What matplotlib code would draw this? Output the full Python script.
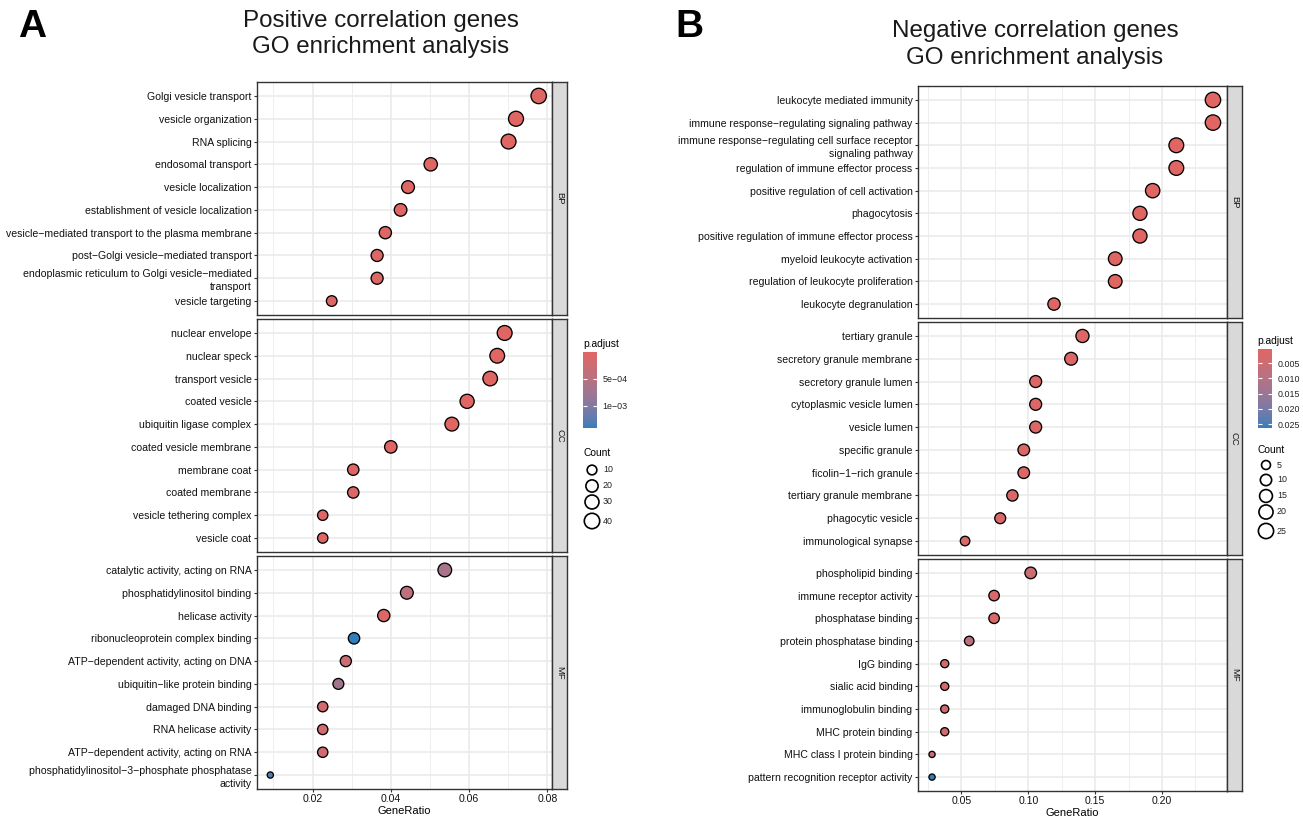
import numpy as np
import matplotlib
matplotlib.use("Agg")
import matplotlib.pyplot as plt
from matplotlib.colors import ListedColormap, Normalize
from matplotlib.cm import ScalarMappable

plt.rcParams["font.family"] = ["Liberation Sans", "DejaVu Sans"]

W, H, DPI = 1303, 818, 100

# ---------------- panel A : positive correlation genes ----------------
pos_bp_terms = ["Golgi vesicle transport", "vesicle organization", "RNA splicing",
                "endosomal transport", "vesicle localization",
                "establishment of vesicle localization",
                "vesicle−mediated transport to the plasma membrane",
                "post−Golgi vesicle−mediated transport",
                "endoplasmic reticulum to Golgi vesicle−mediated\ntransport",
                "vesicle targeting"]
pos_bp_ratio = [0.0778, 0.0720, 0.0701, 0.0502, 0.0444, 0.0425, 0.0386, 0.0365, 0.0365, 0.0249]
pos_bp_count = [40, 37, 36, 26, 23, 22, 20, 19, 19, 13]
pos_bp_padj = [1e-6, 2e-6, 1e-6, 1e-5, 2e-5, 2e-5, 3e-5, 3e-5, 4e-5, 5e-5]

pos_cc_terms = ["nuclear envelope", "nuclear speck", "transport vesicle", "coated vesicle",
                "ubiquitin ligase complex", "coated vesicle membrane", "membrane coat",
                "coated membrane", "vesicle tethering complex", "vesicle coat"]
pos_cc_ratio = [0.0691, 0.0672, 0.0654, 0.0595, 0.0556, 0.0400, 0.0304, 0.0304, 0.0226, 0.0226]
pos_cc_count = [36, 35, 34, 31, 29, 21, 16, 16, 12, 12]
pos_cc_padj = [1e-6, 2e-6, 3e-6, 5e-6, 1e-5, 2e-5, 3e-5, 3e-5, 4e-5, 4e-5]

pos_mf_terms = ["catalytic activity, acting on RNA", "phosphatidylinositol binding",
                "helicase activity", "ribonucleoprotein complex binding",
                "ATP−dependent activity, acting on DNA", "ubiquitin−like protein binding",
                "damaged DNA binding", "RNA helicase activity",
                "ATP−dependent activity, acting on RNA",
                "phosphatidylinositol−3−phosphate phosphatase\nactivity"]
pos_mf_ratio = [0.0538, 0.0441, 0.0382, 0.0306, 0.0285, 0.0266, 0.0226, 0.0226, 0.0226, 0.0092]
pos_mf_count = [28, 23, 20, 16, 15, 14, 12, 12, 12, 5]
pos_mf_padj = [6.5e-4, 4.2e-4, 6e-5, 1.42e-3, 2.6e-4, 7.2e-4, 1.5e-4, 1.8e-4, 2.0e-4, 1.3e-3]

# ---------------- panel B : negative correlation genes ----------------
neg_bp_terms = ["leukocyte mediated immunity", "immune response−regulating signaling pathway",
                "immune response−regulating cell surface receptor\nsignaling pathway",
                "regulation of immune effector process", "positive regulation of cell activation",
                "phagocytosis", "positive regulation of immune effector process",
                "myeloid leukocyte activation", "regulation of leukocyte proliferation",
                "leukocyte degranulation"]
neg_bp_ratio = [0.2381, 0.2381, 0.2107, 0.2107, 0.1930, 0.1835, 0.1835, 0.1650, 0.1650, 0.1192]
neg_bp_count = [26, 26, 23, 23, 21, 20, 20, 18, 18, 13]
neg_bp_padj = [3e-4, 3e-4, 4e-4, 4e-4, 5e-4, 5e-4, 6e-4, 7e-4, 8e-4, 1.0e-3]

neg_cc_terms = ["tertiary granule", "secretory granule membrane", "secretory granule lumen",
                "cytoplasmic vesicle lumen", "vesicle lumen", "specific granule",
                "ficolin−1−rich granule", "tertiary granule membrane", "phagocytic vesicle",
                "immunological synapse"]
neg_cc_ratio = [0.1405, 0.1320, 0.1055, 0.1055, 0.1055, 0.0966, 0.0966, 0.0881, 0.0790, 0.0527]
neg_cc_count = [16, 15, 12, 12, 12, 11, 11, 10, 9, 6]
neg_cc_padj = [1.0e-3, 1.2e-3, 1.4e-3, 1.5e-3, 1.5e-3, 1.6e-3, 1.7e-3, 1.9e-3, 2.0e-3, 2.3e-3]

neg_mf_terms = ["phospholipid binding", "immune receptor activity", "phosphatase binding",
                "protein phosphatase binding", "IgG binding", "sialic acid binding",
                "immunoglobulin binding", "MHC protein binding", "MHC class I protein binding",
                "pattern recognition receptor activity"]
neg_mf_ratio = [0.1018, 0.0744, 0.0744, 0.0558, 0.0375, 0.0375, 0.0375, 0.0375, 0.0280, 0.0280]
neg_mf_count = [11, 8, 8, 6, 4, 4, 4, 4, 3, 3]
neg_mf_padj = [5.5e-3, 2.5e-3, 2.5e-3, 8.5e-3, 2.8e-3, 2.8e-3, 3.0e-3, 3.2e-3, 5.0e-3, 0.0263]

pos_legend_counts = [10, 20, 30, 40]
neg_legend_counts = [5, 10, 15, 20, 25]
pos_cbar_ticks = [5e-4, 1e-3]
pos_cbar_labels = ["5e−04", "1e−03"]
neg_cbar_ticks = [0.005, 0.010, 0.015, 0.020, 0.025]
neg_cbar_labels = ["0.005", "0.010", "0.015", "0.020", "0.025"]


# ggplot style gradient (interpolated in Lab space)
_M = np.array([[0.4124564, 0.3575761, 0.1804375],
               [0.2126729, 0.7151522, 0.0721750],
               [0.0193339, 0.1191920, 0.9503041]])
_WHITE = np.array([0.95047, 1.0, 1.08883])


def to_lab(hexcol):
    rgb = np.array([int(hexcol[i:i + 2], 16) / 255 for i in (1, 3, 5)])
    lin = np.where(rgb <= 0.04045, rgb / 12.92, ((rgb + 0.055) / 1.055) ** 2.4)
    t = (_M @ lin) / _WHITE
    f = np.where(t > (6 / 29) ** 3, np.cbrt(t), t / (3 * (6 / 29) ** 2) + 4 / 29)
    return np.array([116 * f[1] - 16, 500 * (f[0] - f[1]), 200 * (f[1] - f[2])])


def from_lab(lab):
    fy = (lab[0] + 16) / 116
    f = np.array([fy + lab[1] / 500, fy, fy - lab[2] / 200])
    t = np.where(f > 6 / 29, f ** 3, 3 * (6 / 29) ** 2 * (f - 4 / 29))
    lin = np.linalg.inv(_M) @ (t * _WHITE)
    lin = np.clip(lin, 0, None)
    rgb = np.where(lin <= 0.0031308, 12.92 * lin, 1.055 * lin ** (1 / 2.4) - 0.055)
    return np.clip(rgb, 0, 1)


lab_lo, lab_hi = to_lab("#e06663"), to_lab("#327eba")
cmap = ListedColormap([from_lab(lab_lo + (lab_hi - lab_lo) * u) for u in np.linspace(0, 1, 256)])


def box(x0, y0, x1, y1):
    return [x0 / W, 1 - y1 / H, (x1 - x0) / W, (y1 - y0) / H]


def dot_size(c, cmin, cmax):
    d = 6.2 + 9.2 * np.sqrt((np.asarray(c, float) - cmin) / (cmax - cmin))
    return (d * 72 / DPI) ** 2


fig = plt.figure(figsize=(W / DPI, H / DPI), dpi=DPI)


def facet(px, py, strip_x1, terms, ratio, count, padj, norm, clim, xlim,
          xticks, xlabels, xminor, label, bottom):
    ax = fig.add_axes(box(px[0], py[0], px[1], py[1]))
    n = len(terms)
    y = np.arange(n)[::-1]
    ax.set_xlim(xlim)
    ax.set_ylim(-0.6, n - 1 + 0.6)
    ax.set_axisbelow(True)
    ax.set_xticks(xticks)
    ax.set_xticks(xminor, minor=True)
    ax.grid(which="major", color="#ebebeb", lw=1.2)
    ax.grid(which="minor", axis="x", color="#ebebeb", lw=0.6)
    ax.scatter(ratio, y, s=dot_size(count, *clim), c=padj, cmap=cmap, norm=norm,
               edgecolors="black", linewidths=0.95, zorder=3)
    ax.set_yticks(y)
    ax.set_yticklabels(terms, fontsize=7.6, color="#111111")
    for t in ax.get_yticklabels():
        t.set_linespacing(1.35)
    ax.tick_params(which="major", length=2.5, width=0.8, color="#333333", pad=1.5)
    ax.tick_params(which="minor", length=0)
    if bottom:
        ax.set_xticklabels(xlabels, fontsize=7.6, color="#111111")
        ax.set_xlabel("GeneRatio", fontsize=8, labelpad=1)
    else:
        ax.tick_params(axis="x", labelbottom=False, length=0)
    for sp in ax.spines.values():
        sp.set_color("#333333")
        sp.set_linewidth(1.0)
    sax = fig.add_axes(box(px[1], py[0], strip_x1, py[1]))
    sax.set_facecolor("#d9d9d9")
    sax.set_xticks([])
    sax.set_yticks([])
    for sp in sax.spines.values():
        sp.set_color("#333333")
        sp.set_linewidth(1.0)
    sax.text(0.5, 0.5, label, rotation=-90, ha="center", va="center",
             fontsize=6.8, color="#1a1a1a", transform=sax.transAxes)
    return ax


# panel A
pos_all_padj = pos_bp_padj + pos_cc_padj + pos_mf_padj
pos_all_count = pos_bp_count + pos_cc_count + pos_mf_count
pos_norm = Normalize(min(pos_all_padj), max(pos_all_padj))
pos_clim = (min(pos_all_count), max(pos_all_count))
pos_xlim = (0.0058, 0.0812)
pos_xt = [0.02, 0.04, 0.06, 0.08]
pos_xl = ["0.02", "0.04", "0.06", "0.08"]
pos_xm = [0.01, 0.03, 0.05, 0.07]
pos_rows = [(82.3, 314.7), (319.3, 551.7), (556.3, 788.7)]
for (terms, r, c, p, lab), py, bot in zip(
        [(pos_bp_terms, pos_bp_ratio, pos_bp_count, pos_bp_padj, "BP"),
         (pos_cc_terms, pos_cc_ratio, pos_cc_count, pos_cc_padj, "CC"),
         (pos_mf_terms, pos_mf_ratio, pos_mf_count, pos_mf_padj, "MF")],
        pos_rows, [False, False, True]):
    facet((257, 552), py, 567, terms, r, c, p, pos_norm, pos_clim, pos_xlim,
          pos_xt, pos_xl, pos_xm, lab, bot)

# panel B
neg_all_padj = neg_bp_padj + neg_cc_padj + neg_mf_padj
neg_all_count = neg_bp_count + neg_cc_count + neg_mf_count
neg_norm = Normalize(min(neg_all_padj), max(neg_all_padj))
neg_clim = (min(neg_all_count), max(neg_all_count))
neg_xlim = (0.0175, 0.2486)
neg_xt = [0.05, 0.10, 0.15, 0.20]
neg_xl = ["0.05", "0.10", "0.15", "0.20"]
neg_xm = [0.025, 0.075, 0.125, 0.175, 0.225]
neg_rows = [(86.3, 317.7), (322.3, 554.7), (559.3, 790.7)]
for (terms, r, c, p, lab), py, bot in zip(
        [(neg_bp_terms, neg_bp_ratio, neg_bp_count, neg_bp_padj, "BP"),
         (neg_cc_terms, neg_cc_ratio, neg_cc_count, neg_cc_padj, "CC"),
         (neg_mf_terms, neg_mf_ratio, neg_mf_count, neg_mf_padj, "MF")],
        neg_rows, [False, False, True]):
    facet((918, 1227), py, 1242, terms, r, c, p, neg_norm, neg_clim, neg_xlim,
          neg_xt, neg_xl, neg_xm, lab, bot)

# overlay for titles and legends (pixel coordinates)
ov = fig.add_axes([0, 0, 1, 1], zorder=-1)
ov.set_xlim(0, W)
ov.set_ylim(H, 0)
ov.axis("off")

ov.text(32, 27, "A", fontsize=28, fontweight="bold", ha="center", va="center")
ov.text(689, 27, "B", fontsize=28, fontweight="bold", ha="center", va="center")
ov.text(381, 34, "Positive correlation genes\nGO enrichment analysis", fontsize=17.4,
        ha="center", va="center", linespacing=1.28, color="#1a1a1a")
ov.text(1035, 44.5, "Negative correlation genes\nGO enrichment analysis", fontsize=17.4,
        ha="center", va="center", linespacing=1.28, color="#1a1a1a")


def legend(x0, title_y, cb_box, ticks, labels, norm, cnt_title_y, cnt_x, cnt_ys,
           counts, clim):
    ov.text(x0, title_y, "p.adjust", fontsize=7.4, ha="left", va="center")
    cax = fig.add_axes(box(*cb_box))
    cb = fig.colorbar(ScalarMappable(norm=norm, cmap=cmap), cax=cax)
    cb.outline.set_visible(False)
    cb.minorticks_off()
    cax.invert_yaxis()
    cb.set_ticks(ticks)
    cb.set_ticklabels(labels)
    cax.yaxis.set_ticks_position("both")
    cax.tick_params(axis="y", direction="in", length=2.8, width=0.8, color="white",
                    labelsize=6.4, labelcolor="#222222", pad=4, labelleft=False,
                    labelright=True)
    ov.text(x0, cnt_title_y, "Count", fontsize=7.4, ha="left", va="center")
    ov.scatter([cnt_x] * len(counts), cnt_ys, s=dot_size(counts, *clim),
               facecolors="none", edgecolors="black", linewidths=1.2)
    for c, yy in zip(counts, cnt_ys):
        ov.text(cnt_x + 11, yy, str(c), fontsize=6.4, ha="left", va="center",
                color="#222222")


legend(583, 344, (583, 352, 597, 428), pos_cbar_ticks, pos_cbar_labels, pos_norm,
       453, 592, [470, 486, 502, 521], pos_legend_counts, pos_clim)
legend(1257, 341, (1258, 349, 1272, 428), neg_cbar_ticks, neg_cbar_labels, neg_norm,
       450, 1266, [465, 480, 496, 512, 531], neg_legend_counts, neg_clim)

fig.savefig("out.png", dpi=DPI)
